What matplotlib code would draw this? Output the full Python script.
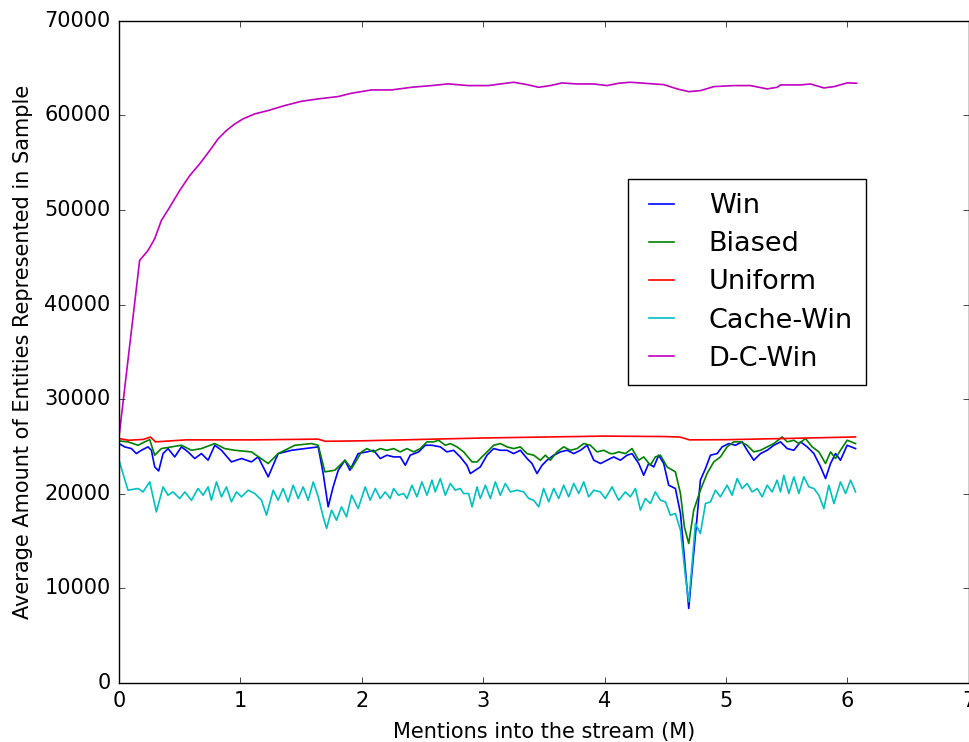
import numpy as np
import matplotlib
matplotlib.use('Agg')
import matplotlib.pyplot as plt

# Win
win_x = [0.0, 0.047, 0.102, 0.143, 0.184, 0.239, 0.267, 0.294, 0.327, 0.363, 0.404, 0.459, 0.514, 0.569,
         0.624, 0.679, 0.734, 0.789, 0.844, 0.926, 1.009, 1.091, 1.146, 1.229, 1.311, 1.421, 1.531, 1.641,
         1.682, 1.723, 1.764, 1.806, 1.861, 1.902, 1.970, 2.042, 2.097, 2.152, 2.207, 2.262, 2.317, 2.358,
         2.399, 2.468, 2.523, 2.578, 2.647, 2.701, 2.756, 2.811, 2.866, 2.894, 2.935, 2.976, 3.031, 3.086,
         3.141, 3.196, 3.251, 3.306, 3.361, 3.402, 3.443, 3.485, 3.526, 3.581, 3.636, 3.691, 3.746, 3.801,
         3.856, 3.911, 3.966, 4.020, 4.075, 4.130, 4.185, 4.226, 4.281, 4.322, 4.363, 4.405, 4.446, 4.487,
         4.528, 4.583, 4.625, 4.666, 4.693, 4.721, 4.762, 4.789, 4.831, 4.872, 4.927, 4.968, 5.023, 5.078,
         5.133, 5.174, 5.229, 5.284, 5.339, 5.394, 5.449, 5.504, 5.559, 5.614, 5.669, 5.724, 5.779, 5.820,
         5.861, 5.902, 5.943, 5.998, 6.067]
win_y = [25310, 24960, 24780, 24250, 24600, 24960, 24600, 22840, 22420, 24250, 24780, 23900, 24960, 24430,
         23730, 24250, 23550, 25130, 24600, 23370, 23730, 23370, 23900, 21790, 24250, 24600, 24780, 24960,
         22140, 18620, 20730, 22490, 23550, 22490, 24250, 24430, 24600, 23730, 24080, 23900, 23900, 23020,
         24080, 24430, 25130, 25130, 24960, 24430, 24600, 23900, 23020, 22140, 22490, 22840, 24080, 24780,
         24600, 24600, 24250, 24600, 23730, 23200, 22140, 23020, 23550, 24080, 24430, 24600, 24250, 24600,
         25130, 23550, 23200, 23550, 23900, 23550, 24080, 24250, 23200, 21960, 23200, 22840, 24080, 23200,
         20910, 20560, 17920, 11930, 7880, 11930, 17570, 21440, 22670, 24080, 24250, 24960, 25310, 25130,
         25490, 24600, 23550, 24250, 24600, 25130, 25490, 24780, 24600, 25490, 24960, 24250, 22840, 21610,
         23200, 24250, 23550, 25130, 24780]

# Biased
biased_x = [0.0, 0.074, 0.157, 0.212, 0.253, 0.294, 0.349, 0.432, 0.514, 0.597, 0.679, 0.789, 0.871, 0.954,
            1.091, 1.229, 1.311, 1.448, 1.586, 1.641, 1.696, 1.778, 1.861, 1.916, 1.998, 2.042, 2.097, 2.152,
            2.207, 2.262, 2.317, 2.372, 2.427, 2.482, 2.537, 2.592, 2.633, 2.688, 2.729, 2.784, 2.839, 2.908,
            2.949, 2.990, 3.045, 3.086, 3.141, 3.196, 3.251, 3.306, 3.361, 3.416, 3.471, 3.512, 3.553, 3.608,
            3.663, 3.718, 3.773, 3.828, 3.883, 3.938, 3.993, 4.048, 4.075, 4.116, 4.171, 4.226, 4.281, 4.322,
            4.377, 4.418, 4.460, 4.515, 4.583, 4.625, 4.657, 4.693, 4.734, 4.789, 4.844, 4.899, 4.954, 5.009,
            5.064, 5.119, 5.174, 5.229, 5.284, 5.339, 5.394, 5.463, 5.504, 5.559, 5.600, 5.655, 5.710, 5.765,
            5.820, 5.861, 5.902, 5.943, 5.998, 6.067]
biased_y = [25590, 25490, 25130, 25490, 25730, 24080, 24780, 24960, 25130, 24600, 24780, 25310, 24780, 24600,
            24430, 23200, 24250, 25130, 25310, 25130, 22320, 22490, 23550, 22670, 24430, 24780, 24430, 24780,
            24600, 24780, 24430, 24780, 24430, 24780, 25490, 25490, 25660, 25130, 25310, 24960, 24430, 23370,
            23370, 23900, 24600, 25130, 25310, 24960, 24780, 24960, 24250, 24080, 23550, 24080, 23550, 24430,
            24960, 24600, 24780, 25310, 25130, 24430, 24600, 24250, 24250, 24430, 24250, 24780, 23550, 23900,
            23020, 23900, 24080, 22840, 22320, 20030, 16510, 14750, 18270, 20380, 22140, 23370, 23900, 24960,
            25490, 25490, 25130, 24430, 24600, 24960, 25310, 26010, 25490, 25660, 25310, 25840, 24960, 24430,
            23200, 24430, 23730, 24600, 25660, 25310]

# Uniform
uniform_x = [0.0, 0.08, 0.20, 0.26, 0.30, 0.55, 1.10, 1.64, 1.70, 2.0, 2.5, 3.0, 3.5, 4.0, 4.5, 4.62,
             4.70, 5.0, 5.5, 6.067]
uniform_y = [25840, 25660, 25750, 26000, 25490, 25700, 25700, 25780, 25550, 25600, 25750, 25900, 26000,
             26100, 26050, 26000, 25700, 25720, 25850, 26010]

# Cache-Win
cache_x = [0.0, 0.074, 0.157, 0.198, 0.253, 0.308, 0.363, 0.404, 0.445, 0.500, 0.542, 0.597, 0.651, 0.693,
           0.734, 0.761, 0.803, 0.844, 0.885, 0.926, 0.968, 1.009, 1.064, 1.119, 1.174, 1.215, 1.270, 1.311,
           1.352, 1.393, 1.435, 1.476, 1.517, 1.558, 1.600, 1.641, 1.682, 1.710, 1.751, 1.792, 1.833, 1.874,
           1.916, 1.970, 2.028, 2.069, 2.111, 2.152, 2.193, 2.234, 2.262, 2.303, 2.344, 2.372, 2.413, 2.454,
           2.495, 2.537, 2.578, 2.605, 2.647, 2.688, 2.729, 2.770, 2.811, 2.839, 2.880, 2.908, 2.949, 2.976,
           3.018, 3.059, 3.100, 3.141, 3.182, 3.224, 3.279, 3.334, 3.375, 3.416, 3.457, 3.498, 3.540, 3.581,
           3.622, 3.663, 3.704, 3.746, 3.787, 3.828, 3.869, 3.911, 3.965, 4.006, 4.061, 4.116, 4.171, 4.212,
           4.254, 4.295, 4.336, 4.377, 4.418, 4.460, 4.501, 4.542, 4.583, 4.625, 4.666, 4.693, 4.721, 4.748,
           4.789, 4.831, 4.872, 4.913, 4.954, 5.009, 5.050, 5.092, 5.133, 5.174, 5.215, 5.257, 5.298, 5.339,
           5.380, 5.421, 5.449, 5.476, 5.518, 5.559, 5.600, 5.641, 5.683, 5.724, 5.765, 5.806, 5.847, 5.889,
           5.943, 5.985, 6.026, 6.067]
cache_y = [23550, 20380, 20560, 20200, 21260, 18090, 20730, 19850, 20200, 19500, 20200, 19320, 20560, 19850,
           20730, 19320, 21260, 19680, 20730, 19150, 20200, 19680, 20380, 20030, 19320, 17740, 20380, 19320,
           20560, 19150, 20910, 19500, 20730, 19320, 21260, 19680, 17560, 16330, 18270, 17210, 18620, 17560,
           19850, 18440, 20730, 19320, 20560, 19500, 20200, 19500, 20560, 19850, 20030, 19500, 20910, 19680,
           21260, 19850, 21440, 20200, 21610, 19850, 21090, 20380, 20560, 20030, 20030, 18620, 20730, 19500,
           20910, 19500, 21260, 19850, 21090, 20200, 20380, 20200, 19500, 19320, 18620, 20560, 19150, 20560,
           19500, 20910, 19680, 21090, 20030, 21260, 19680, 20380, 20200, 19500, 20730, 19320, 20200, 19680,
           20560, 18270, 19500, 18970, 20200, 19320, 19150, 17740, 17920, 16160, 11230, 8590, 12640, 16860,
           15800, 18970, 19150, 20380, 19680, 20910, 19850, 21610, 20560, 21090, 20200, 20560, 19680, 20910,
           20200, 21440, 20200, 21960, 20030, 21790, 20030, 21790, 20730, 20560, 19850, 18440, 20910, 18970,
           21260, 20030, 21440, 20200]

# D-C-Win
dcw_x = [0.0, 0.17, 0.239, 0.294, 0.349, 0.418, 0.500, 0.583, 0.665, 0.748, 0.816, 0.885, 0.954, 1.022,
         1.119, 1.228, 1.366, 1.503, 1.640, 1.805, 1.915, 2.080, 2.245, 2.410, 2.575, 2.712, 2.877, 3.042,
         3.141, 3.251, 3.361, 3.457, 3.553, 3.649, 3.773, 3.911, 4.020, 4.117, 4.213, 4.323, 4.488, 4.597,
         4.694, 4.790, 4.900, 5.065, 5.202, 5.339, 5.422, 5.449, 5.614, 5.697, 5.806, 5.889, 5.999, 6.076]
dcw_y = [26000, 44670, 45720, 46960, 48890, 50300, 52060, 53640, 54880, 56290, 57520, 58400, 59100, 59630,
         60160, 60510, 61040, 61490, 61740, 61990, 62340, 62690, 62690, 62970, 63150, 63330, 63150, 63150,
         63320, 63500, 63250, 62970, 63150, 63430, 63320, 63320, 63150, 63400, 63500, 63400, 63250, 62800,
         62510, 62620, 63040, 63150, 63150, 62800, 62970, 63220, 63220, 63320, 62900, 63040, 63430, 63400]

series = [
    ('Win', win_x, win_y, 'b'),
    ('Biased', biased_x, biased_y, 'g'),
    ('Uniform', uniform_x, uniform_y, 'r'),
    ('Cache-Win', cache_x, cache_y, 'c'),
    ('D-C-Win', dcw_x, dcw_y, 'm'),
]

plt.style.use('classic')
plt.rcParams['font.family'] = ['DejaVu Sans']

fig = plt.figure(figsize=(9.69, 7.42), dpi=100)
ax = fig.add_axes([0.1228, 0.0795, 0.877, 0.8925])

for name, xs, ys, c in series:
    ax.plot(xs, ys, color=c, linewidth=1.2, label=name)

ax.set_xlim(0, 7)
ax.set_ylim(0, 70000)
ax.set_xticks(np.arange(0, 8, 1))
ax.set_yticks(np.arange(0, 70001, 10000))
ax.tick_params(labelsize=15, pad=6)
ax.set_xlabel('Mentions into the stream (M)', fontsize=15, labelpad=8)
ax.set_ylabel('Average Amount of Entities Represented in Sample', fontsize=15, labelpad=8)

leg = ax.legend(loc='center', bbox_to_anchor=(0.739, 0.605), fontsize=19.5,
                handlelength=1.5, labelspacing=0.45, handletextpad=1.0, borderpad=0.5)
leg.get_frame().set_linewidth(1.0)

fig.savefig('out.png', dpi=100)
